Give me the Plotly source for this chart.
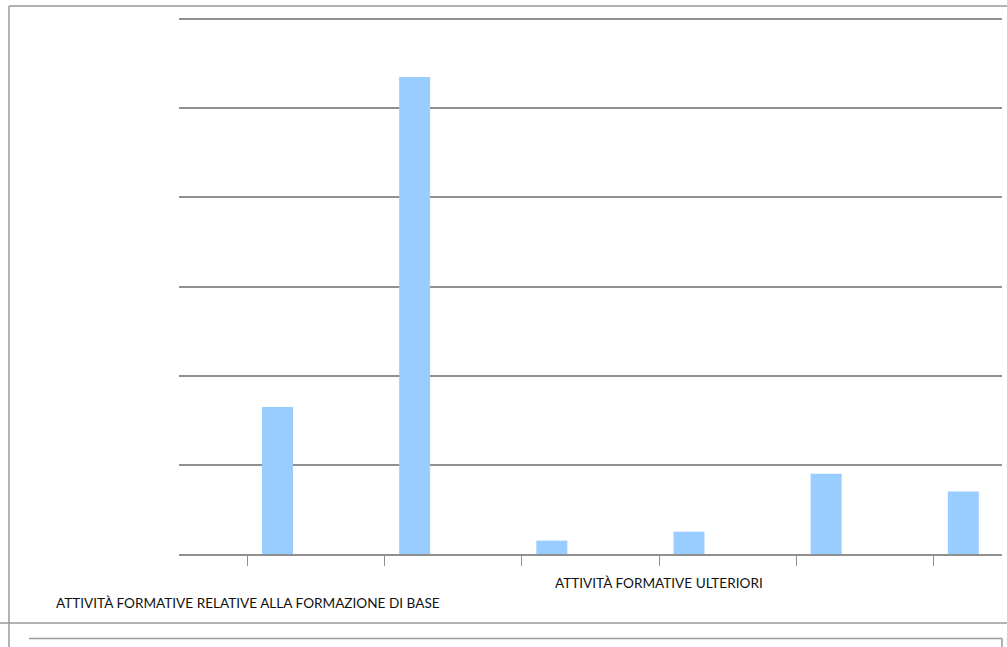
import plotly.graph_objects as go

# Data
categories = ["Base 1", "Base 2", "Base 3", "Ulteriori 1", "Ulteriori 2", "Ulteriori 3"]
values = [16.5, 53.5, 1.5, 2.5, 9.0, 7.0]
group_labels = ["ATTIVITÀ FORMATIVE RELATIVE ALLA FORMAZIONE DI BASE", "ATTIVITÀ FORMATIVE ULTERIORI"]
group_label_cats = ["Base 1", "Ulteriori 1"]
y_max = 60
y_step = 10

W, H = 1007, 647
L, R, T, B = 179, 5, 18, 93
pw = W - L - R
ph = H - T - B


def px_x(p):
    return (p - L) / pw


def px_y(p):
    return (H - B - p) / ph


fig = go.Figure()
fig.add_trace(go.Bar(
    x=categories, y=values,
    marker=dict(color="#99CCFF", line=dict(width=0)),
    width=0.226, offset=0.105,
    hoverinfo="x+y",
))

grid_col = "#8f8f8f"
fig.update_layout(
    width=W, height=H,
    margin=dict(l=L, r=R, t=T, b=B),
    paper_bgcolor="white", plot_bgcolor="white",
    showlegend=False,
    font=dict(family="Lato, Open Sans, sans-serif", size=14, color="#111111"),
    xaxis=dict(
        type="category",
        showgrid=False, showticklabels=False,
        ticks="outside", ticklen=10, tickcolor=grid_col, tickwidth=1,
        showline=True, linecolor=grid_col, linewidth=1.5,
        range=[-0.5, len(categories) - 0.5],
        fixedrange=True,
    ),
    yaxis=dict(
        range=[0, y_max * 1.002], tick0=0, dtick=y_step,
        showgrid=True, gridcolor=grid_col, gridwidth=1.5,
        showticklabels=False, zeroline=False, showline=False,
        fixedrange=True,
    ),
)

# Group labels
label_y = [px_y(603), px_y(583)]
for txt, cat, yy in zip(group_labels, group_label_cats, label_y):
    fig.add_annotation(
        x=cat, y=yy, xref="x", yref="paper",
        text=txt, showarrow=False,
        xanchor="center", yanchor="middle",
        font=dict(family="Lato, Open Sans, sans-serif", size=13.6, color="#111111"),
    )

border = dict(color="#9a9a9a", width=1.5)
shapes = [
    dict(x0=px_x(9), x1=px_x(1007), y0=px_y(6), y1=px_y(6)),
    dict(x0=px_x(9), x1=px_x(9), y0=px_y(6), y1=px_y(647)),
    dict(x0=px_x(0), x1=px_x(1007), y0=px_y(623), y1=px_y(623)),
    dict(x0=px_x(29), x1=px_x(1002), y0=px_y(638.5), y1=px_y(638.5)),
    dict(x0=px_x(1002), x1=px_x(1002), y0=px_y(638.5), y1=px_y(647)),
]
for s in shapes:
    fig.add_shape(type="line", xref="paper", yref="paper", line=border, **s)

fig.write_html(
    "out.html",
    config={"displayModeBar": False},
    post_script="document.body.style.margin='0';document.body.style.padding='0';",
)
